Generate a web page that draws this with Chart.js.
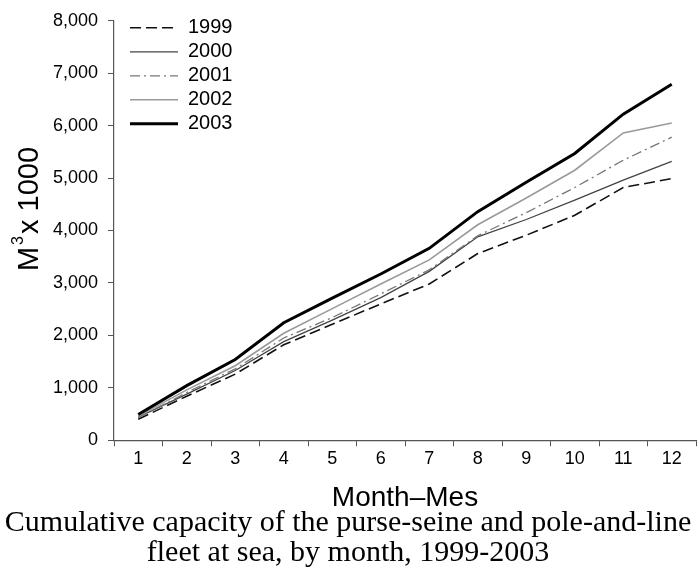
<!DOCTYPE html>
<html><head><meta charset="utf-8">
<script src="https://cdn.jsdelivr.net/npm/chart.js@4"></script>
<style>html,body{margin:0;padding:0;background:#fff;overflow:hidden}</style>
</head><body>
<canvas id="c" width="699" height="571"></canvas>
<script>
// ---- data ----
const months = ['1','2','3','4','5','6','7','8','9','10','11','12'];
const seriesLabels = ['1999','2000','2001','2002','2003'];
const y1999 = [400, 840, 1260, 1820, 2210, 2600, 2980, 3560, 3910, 4290, 4820, 4990];
const y2000 = [440, 880, 1330, 1880, 2290, 2720, 3220, 3880, 4210, 4580, 4960, 5320];
const y2001 = [430, 910, 1360, 1950, 2340, 2790, 3250, 3900, 4340, 4820, 5340, 5780];
const y2002 = [460, 960, 1420, 2040, 2510, 2980, 3440, 4110, 4620, 5150, 5860, 6050];
const y2003 = [490, 1040, 1540, 2240, 2710, 3170, 3660, 4360, 4920, 5470, 6220, 6790];
const yMin = 0, yMax = 8000, yStep = 1000;
const yTitleMain = 'M', yTitleSup = '3', yTitleRest = 'x 1000';
const xTitle = 'Month\u2013Mes';
const caption = ['Cumulative capacity of the purse-seine and pole-and-line', 'fleet at sea, by month, 1999-2003'];

const SANS = '"Liberation Sans", Arial, sans-serif';
const SERIF = '"Liberation Serif", "Times New Roman", serif';
const axisColor = '#555';

const styles = [
  {borderColor: '#111', borderWidth: 1.6, borderDash: [11, 5]},
  {borderColor: '#444', borderWidth: 1.3, borderDash: []},
  {borderColor: '#777', borderWidth: 1.3, borderDash: [10, 4, 2, 4]},
  {borderColor: '#9a9a9a', borderWidth: 1.6, borderDash: []},
  {borderColor: '#000', borderWidth: 3, borderDash: []}
];
const values = [y1999, y2000, y2001, y2002, y2003];

const datasets = values.map((v, i) => Object.assign({
  label: seriesLabels[i],
  data: v,
  fill: false,
  pointRadius: 0,
  pointHoverRadius: 0,
  tension: 0,
  order: 5 - i
}, styles[i]));

const yTitlePlugin = {
  id: 'yTitle',
  afterDraw(chart) {
    const ctx = chart.ctx;
    ctx.save();
    ctx.translate(30, 209);
    ctx.rotate(-Math.PI / 2);
    ctx.fillStyle = '#000';
    ctx.textBaseline = 'alphabetic';
    ctx.textAlign = 'left';
    const big = '29px ' + SANS, small = '16px ' + SANS;
    const gap = 2;
    ctx.font = big; const wM = ctx.measureText(yTitleMain).width; const wR = ctx.measureText(yTitleRest).width;
    ctx.font = small; const wS = ctx.measureText(yTitleSup).width;
    let x = -(wM + wS + wR + 2 * gap) / 2;
    const base = 8;
    ctx.font = big; ctx.fillText(yTitleMain, x, base); x += wM + gap;
    ctx.font = small; ctx.fillText(yTitleSup, x, base - 15); x += wS + gap;
    ctx.font = big; ctx.fillText(yTitleRest, x, base);
    ctx.restore();
  }
};

const legendPlace = {
  id: 'legendPlace',
  afterLayout(chart) {
    const lg = chart.legend;
    if (lg) {
      const w = lg.right - lg.left, h = lg.bottom - lg.top;
      lg.left = chart.chartArea.left + 12; lg.right = lg.left + w;
      lg.top = chart.chartArea.top - 7; lg.bottom = lg.top + h;
    }
  }
};

new Chart(document.getElementById('c'), {
  type: 'line',
  data: {labels: months, datasets},
  options: {
    responsive: false,
    devicePixelRatio: 1,
    animation: false,
    layout: {padding: {top: 18, right: 3, left: 0, bottom: 0}},
    plugins: {
      legend: {
        position: 'chartArea',
        align: 'start',
        labels: {
          usePointStyle: true,
          pointStyle: 'line',
          pointStyleWidth: 48,
          padding: 4,
          color: '#000',
          font: {family: SANS, size: 20},
          generateLabels(chart) {
            return chart.data.datasets.map((ds, i) => ({
              text: ds.label,
              fillStyle: ds.borderColor,
              strokeStyle: ds.borderColor,
              lineWidth: ds.borderWidth,
              lineDash: ds.borderDash,
              lineCap: 'butt',
              pointStyle: 'line',
              fontColor: '#000',
              hidden: false,
              datasetIndex: i
            }));
          }
        }
      },
      title: {
        display: true,
        position: 'bottom',
        text: caption,
        color: '#000',
        font: {family: SERIF, size: 30, weight: 'normal', lineHeight: 1.03},
        padding: {top: 0, bottom: 2}
      },
      tooltip: {enabled: false}
    },
    scales: {
      x: {
        type: 'category',
        offset: true,
        afterFit(scale) { scale.height = 67; },
        border: {display: true, color: axisColor, width: 1.2},
        grid: {offset: true, drawOnChartArea: false, drawTicks: true, tickLength: 6, color: axisColor},
        ticks: {color: '#000', font: {family: SANS, size: 18}, padding: 2, maxRotation: 0, autoSkip: false},
        title: {display: true, text: xTitle, color: '#000', font: {family: SANS, size: 28, lineHeight: 1}, padding: {top: 0, bottom: -5}}
      },
      y: {
        min: yMin, max: yMax,
        afterFit(scale) { scale.width = 114; },
        border: {display: true, color: axisColor, width: 1.2},
        grid: {drawOnChartArea: false, drawTicks: true, tickLength: 6, color: axisColor},
        ticks: {stepSize: yStep, color: '#000', font: {family: SANS, size: 18}, padding: 10,
          callback: v => v.toLocaleString('en-US')}
      }
    }
  },
  plugins: [yTitlePlugin, legendPlace]
});
</script>
</body></html>
